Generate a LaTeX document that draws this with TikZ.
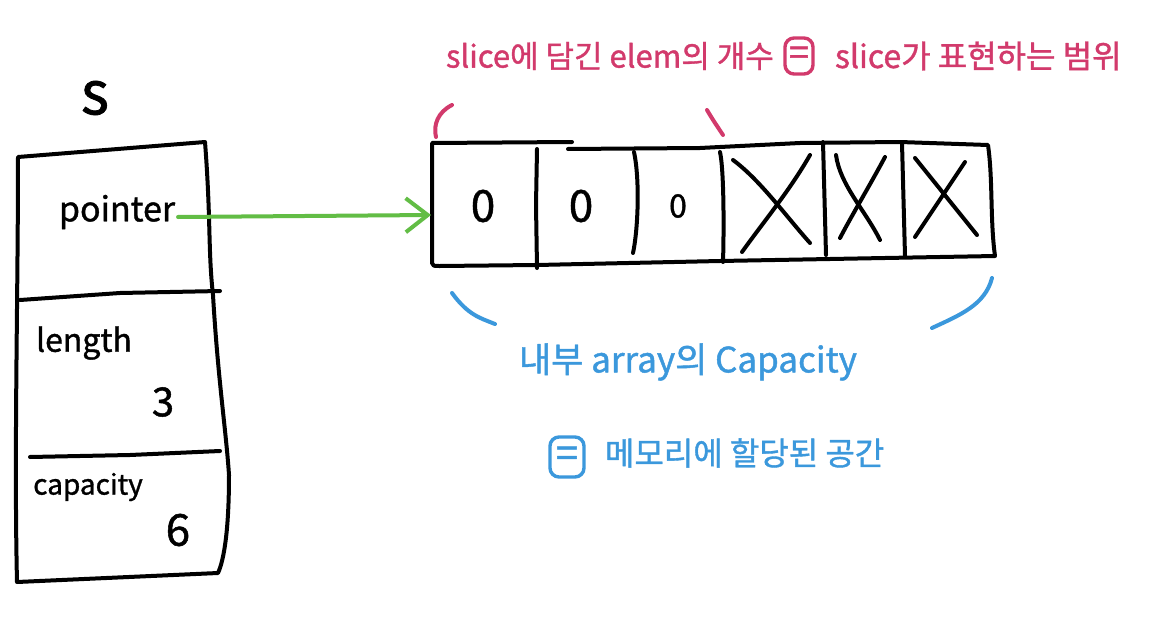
\documentclass[tikz,border=0pt]{standalone}
\usepackage{fontspec}
\setmainfont{Noto Sans CJK KR}[FakeBold=1.2]
\usetikzlibrary{arrows.meta}
\definecolor{pk}{HTML}{D23A6C}
\definecolor{bl}{HTML}{3B98DC}
\definecolor{gr}{HTML}{62BD45}
\newcommand{\fsz}[1]{\fontsize{#1}{#1}\selectfont}
\begin{document}
\begin{tikzpicture}[x=1pt,y=-1pt,line cap=round,line join=round,
  ink/.style={line width=4pt},
  lbl/.style={inner sep=0pt,outer sep=0pt},
  eqbox/.style={draw,line width=3.4pt,rounded corners=9pt,minimum width=28pt,minimum height=36pt,inner sep=0pt,font=\fsz{36}}]
\fill[white] (0,0) rectangle (1170,634);
\useasboundingbox (0,0) rectangle (1170,634);
% struct box
\draw[ink] (18,157) -- (205,142) .. controls (211,220) and (208,250) .. (213,295)
  .. controls (218,380) and (226,430) .. (229,475) .. controls (229,530) and (224,560) .. (218,573)
  -- (17,582) .. controls (14,450) and (18,300) .. (18,157) -- cycle;
\draw[ink] (20,300) -- (120,293) -- (220,291);
\draw[ink] (30,457) -- (130,455) -- (220,451);
\node[lbl,font=\fsz{60}] (s) at (95,98) {s};
\node[lbl,font=\fsz{34}] (ptr) at (117,212) {pointer};
\node[lbl,font=\fsz{32}] (len) at (84,343) {length};
\node[lbl,font=\fsz{40}] (three) at (163,402) {3};
\node[lbl,font=\fsz{28}] (cap) at (88,487) {capacity};
\node[lbl,font=\fsz{44}] (six) at (178,530) {6};
% array
\draw[ink] (572,142) -- (432,143) -- (432,263) .. controls (433,266) .. (440,266) -- (537,265) -- (720,261) -- (995,256)
  .. controls (990,220) and (993,180) .. (988,145) -- (900,142) -- (800,143) -- (700,148) -- (568,149);
\draw[ink] (537,149) -- (536,205) -- (537,268);
\draw[ink] (634,152) .. controls (640,180) and (638,230) .. (633,253);
\draw[ink] (720,152) .. controls (724,170) and (724,230) .. (723,262);
\draw[ink] (823,142) -- (826,255);
\draw[ink] (902,143) -- (905,256);
\node[lbl,font=\fsz{44}] (z1) at (483,206) {0};
\node[lbl,font=\fsz{44}] (z2) at (581,206) {0};
\node[lbl,font=\fsz{32}] (z3) at (678,206) {0};
\draw[ink] (733,160) .. controls (760,180) and (785,215) .. (810,243);
\draw[ink] (810,155) .. controls (790,190) and (765,220) .. (742,252);
\draw[ink] (836,155) .. controls (840,185) and (865,210) .. (880,240);
\draw[ink] (885,157) .. controls (870,185) and (852,215) .. (840,238);
\draw[ink] (915,158) -- (977,235);
\draw[ink] (965,162) -- (915,237);
\coordinate (arrin) at (431,215);
% pointer arrow
\draw[gr,ink,-{Straight Barb[length=22pt,width=34pt]}] (ptr.east) ++(3,5) coordinate (pstart) (pstart) -- (arrin);
% pink annotation
\node[lbl,pk,anchor=west,font=\fsz{31}] (pA) at (446,56) {slice에 담긴 elem의 개수};
\node[eqbox,pk] (pE) at (799,56) {=};
\node[lbl,pk,anchor=west,font=\fsz{32}] (pB) at (835,56) {slice가 표현하는 범위};
\draw[pk,ink] (452,105) .. controls (438,112) and (433,125) .. (436,137);
\draw[pk,ink] (707,110) .. controls (713,120) .. (723,135);
% blue annotation
\draw[bl,ink] (452,293) .. controls (468,315) and (480,318) .. (495,324);
\draw[bl,ink] (992,278) .. controls (985,305) and (960,315) .. (932,328);
\node[lbl,bl,anchor=west,font=\fsz{35}] (bA) at (519,362) {내부 array의 Capacity};
\node[eqbox,bl,minimum width=34pt,minimum height=40pt,font=\fsz{40}] (bE) at (567,457) {=};
\node[lbl,bl,anchor=west,font=\fsz{32}] (bB) at (605,453) {메모리에 할당된 공간};
\end{tikzpicture}
\end{document}
